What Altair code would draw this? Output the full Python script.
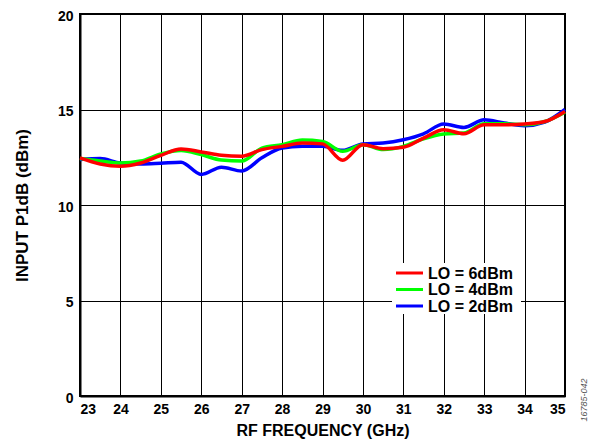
import altair as alt
import pandas as pd

freq = [23, 23.5, 24, 24.5, 25, 25.5, 26, 26.5, 27, 27.5, 28, 28.5, 29,
        29.5, 30, 30.5, 31, 31.5, 32, 32.5, 33, 33.5, 34, 34.5, 35]
lo6 = [12.47, 12.15, 12.03, 12.2, 12.6, 12.93, 12.78, 12.6, 12.55, 12.9, 13.07, 13.25, 13.2,
       12.34, 13.16, 12.95, 13.02, 13.5, 13.94, 13.73, 14.2, 14.2, 14.24, 14.37, 14.9]
lo4 = [12.43, 12.3, 12.2, 12.3, 12.67, 12.85, 12.64, 12.35, 12.3, 12.98, 13.16, 13.4, 13.33,
       12.81, 13.16, 12.9, 13.07, 13.47, 13.72, 13.77, 14.25, 14.25, 14.2, 14.37, 14.86]
lo2 = [12.38, 12.43, 12.2, 12.15, 12.19, 12.24, 11.6, 11.98, 11.78, 12.47, 12.98, 13.07, 13.07,
       12.86, 13.2, 13.25, 13.42, 13.73, 14.24, 14.06, 14.46, 14.29, 14.15, 14.34, 15.0]

series = ["LO = 6dBm", "LO = 4dBm", "LO = 2dBm"]
colors = ["#FF0000", "#00FF00", "#0000FF"]
x_ticks = list(range(23, 36))
y_ticks = [0, 5, 10, 15, 20]

rows = []
# draw order: blue first, red on top
for name, vals in [("LO = 2dBm", lo2), ("LO = 4dBm", lo4), ("LO = 6dBm", lo6)]:
    for f, v in zip(freq, vals):
        rows.append({"freq": f, "p1db": v, "series": name})
df = pd.DataFrame(rows)

W, H = 485, 382
FONT = "Liberation Sans"

color_scale = alt.Scale(domain=series, range=colors)

x_enc = alt.X("freq:Q", scale=alt.Scale(domain=[23, 35], nice=False),
              axis=alt.Axis(title="RF FREQUENCY (GHz)", values=x_ticks, labelOverlap=False,
                            grid=True, ticks=False, labelPadding=6,
                            titlePadding=6, titleFontSize=16, labelFontSize=14))
y_enc = alt.Y("p1db:Q", scale=alt.Scale(domain=[0, 20], nice=False),
              axis=alt.Axis(title="INPUT P1dB (dBm)", values=y_ticks, labelOverlap=False,
                            grid=True, ticks=False, labelPadding=7, labelOffset=2,
                            titleX=-58, titleY=H / 2, titleAngle=270,
                            titleBaseline="middle", titleAlign="center",
                            titleFontSize=17, labelFontSize=14))

lines = alt.Chart(df).mark_line(strokeWidth=3.5, interpolate="monotone").encode(
    x=x_enc, y=y_enc,
    color=alt.Color("series:N", scale=color_scale, sort=series, legend=None),
    detail="series:N",
)
layers = [lines.transform_filter(alt.datum.series == name)
          for name in ["LO = 2dBm", "LO = 4dBm", "LO = 6dBm"]]

# legend drawn inside the plot (white box, line swatches, labels)
leg_df = pd.DataFrame({"series": series})
box = alt.Chart(leg_df.head(1)).mark_rect(color="white").encode(
    x=alt.value(312), x2=alt.value(441), y=alt.value(249), y2=alt.value(300))
leg_layers = [box]
row_y = [259, 275.5, 292]
for i, (name, col) in enumerate(zip(series, colors)):
    sub = leg_df[leg_df["series"] == name]
    leg_layers.append(alt.Chart(sub).mark_rule(color=col, strokeWidth=3).encode(
        x=alt.value(316), x2=alt.value(343), y=alt.value(row_y[i])))
    leg_layers.append(alt.Chart(sub).mark_text(
        align="left", baseline="middle", font=FONT, fontSize=16, fontWeight="bold",
        color="black").encode(x=alt.value(348), y=alt.value(row_y[i] + 0.5), text="series:N"))

note = alt.Chart(pd.DataFrame({"t": ["16785-042"]})).mark_text(
    angle=270, fontSize=9, fontStyle="italic", color="#555555", font=FONT, align="center",
    baseline="middle"
).encode(x=alt.value(W + 19), y=alt.value(H + 4), text="t:N")

chart = alt.layer(*layers, *leg_layers, note).properties(
    width=W, height=H, autosize=alt.AutoSizeParams(type="none"),
    padding={"left": 72, "top": 6, "right": 24, "bottom": 44}
).configure_view(stroke="black", strokeWidth=2).configure_axis(
    gridColor="black", gridOpacity=1, gridWidth=1, domainColor="black", domainWidth=2,
    labelFont=FONT, labelFontWeight="bold", labelColor="black",
    titleFont=FONT, titleFontWeight="bold", titleColor="black"
)

chart.save("out.html", embed_options={"renderer": "svg", "actions": False})
